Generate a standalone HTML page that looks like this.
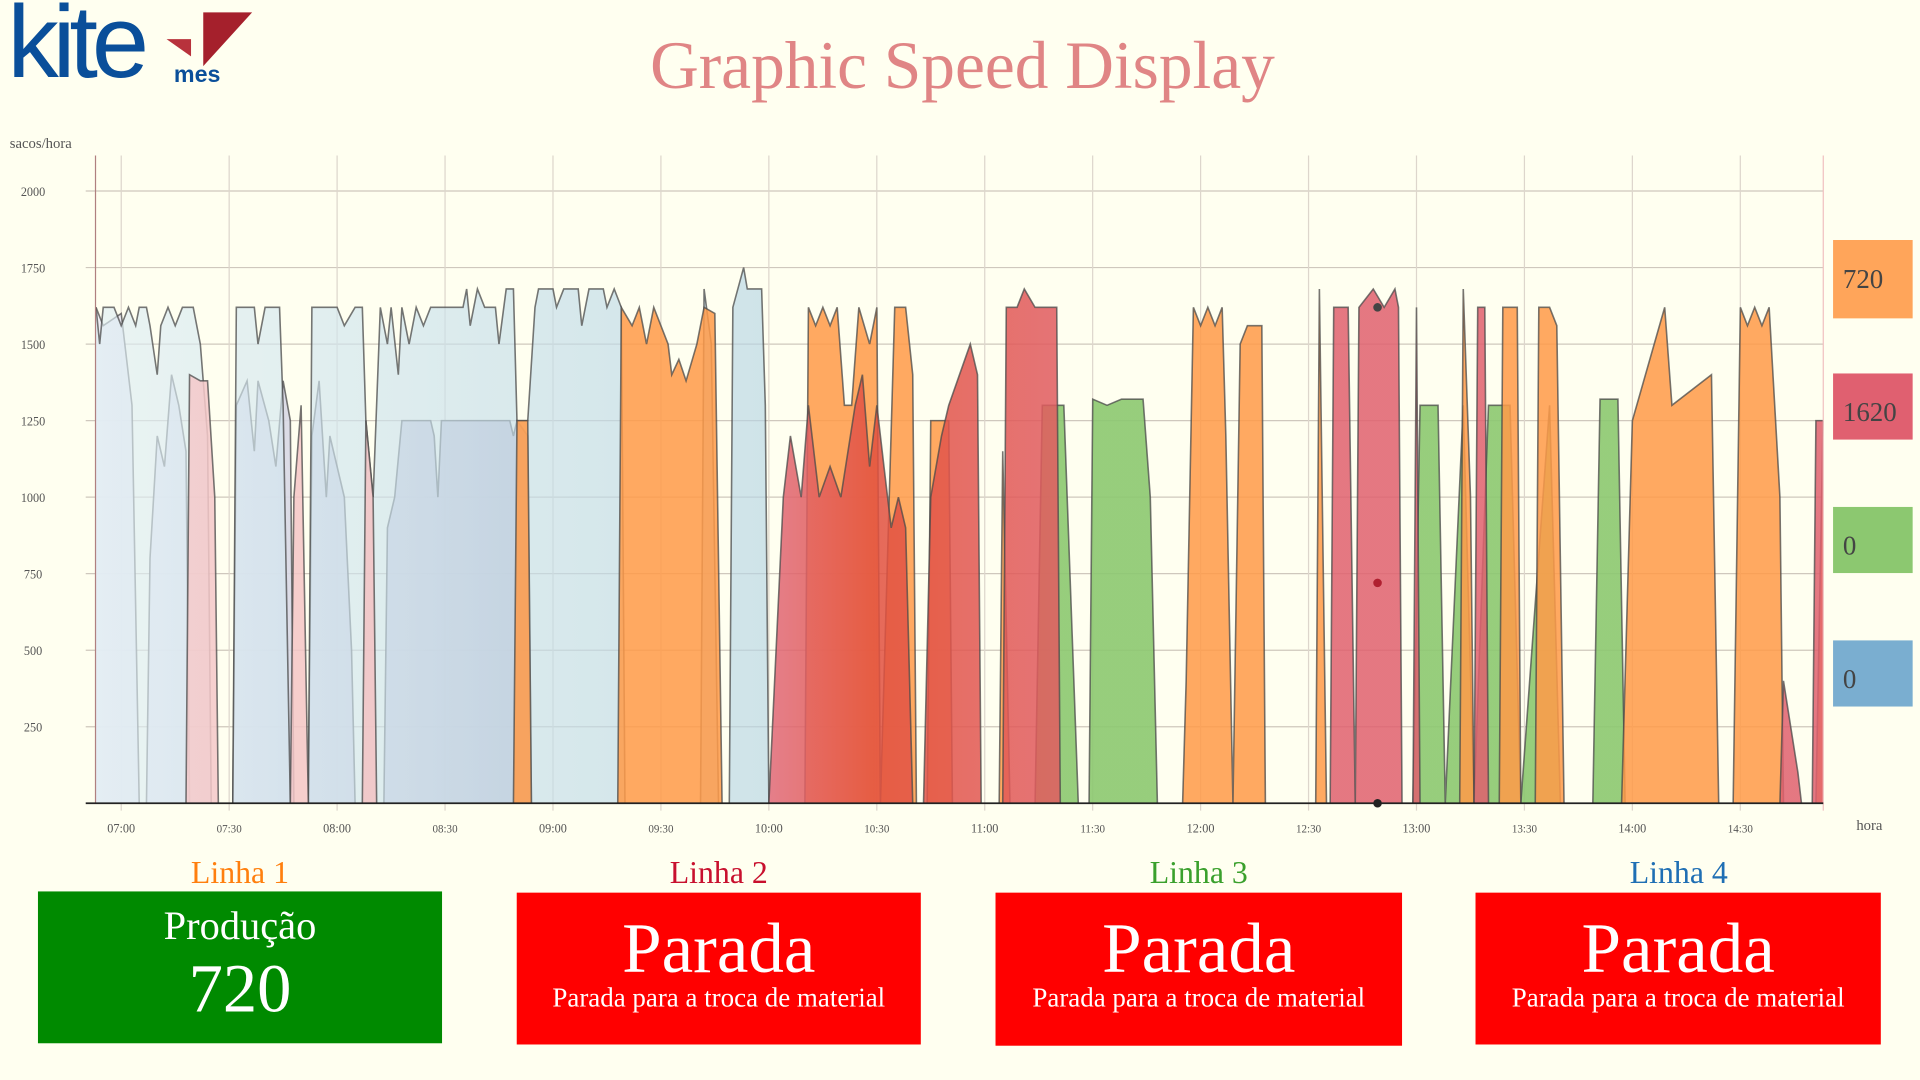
<!DOCTYPE html>
<html><head><meta charset="utf-8">
<style>
html,body{margin:0;padding:0;background:#fffff0;overflow:hidden}
#wrap{position:absolute;left:0;top:0;width:1568px;height:882px;transform:scale(1.22449);transform-origin:0 0;background:#fffff0;font-family:"Liberation Serif",serif}
.lbl{position:absolute;font-size:26px;text-align:center;width:330px}
.box{position:absolute;color:#fff;text-align:center}
.side{position:absolute;left:1497px;width:65px;font-size:22px;color:#444;box-sizing:border-box;padding-left:8px}
</style></head><body>
<div id="wrap">
  <div style="position:absolute;left:8px;top:0;width:200px;height:80px">
    <div style="position:absolute;left:-2px;top:-14px;font-family:'Liberation Sans',sans-serif;font-size:84px;color:#0a4f9a;letter-spacing:-5px">kite</div>
    <svg style="position:absolute;left:126px;top:10px" width="72" height="46"><polygon points="32,0 72,0 32,44" fill="#a5202c"/><polygon points="2,22 22,22 22,36" fill="#b8323c"/></svg>
    <div style="position:absolute;left:134px;top:51px;font-family:'Liberation Sans',sans-serif;font-weight:bold;font-size:19px;color:#0a4f9a">mes</div>
  </div>
  <div style="position:absolute;left:0;width:1568px;top:22px;text-align:center;font-size:55px;color:#e08585;padding-left:2px">Graphic Speed Display</div>
  <svg id="chart" style="position:absolute;left:0;top:0" width="1568" height="700"></svg>

  <div class="side" style="top:196px;height:64px;line-height:64px;background:#ffa55a">720</div>
  <div class="side" style="top:305px;height:54px;line-height:64px;background:#e06070">1620</div>
  <div class="side" style="top:414px;height:54px;line-height:64px;background:#8cc870">0</div>
  <div class="side" style="top:523px;height:54px;line-height:64px;background:#7aaed0">0</div>

  <div class="lbl" style="left:31px;top:698px;color:#ff7f0e">Linha 1</div>
  <div class="lbl" style="left:422px;top:698px;color:#c8102e">Linha 2</div>
  <div class="lbl" style="left:814px;top:698px;color:#3aa02c">Linha 3</div>
  <div class="lbl" style="left:1206px;top:698px;color:#1f6fb4">Linha 4</div>

  <div class="box" style="left:31px;top:728px;width:330px;height:124px;background:#008a00">
    <div style="font-size:33px;margin-top:11px">Produção</div>
    <div style="font-size:56px;margin-top:0px">720</div>
  </div>
  <div class="box" style="left:422px;top:729px;width:330px;height:124px;background:#ff0000">
    <div style="font-size:58px;margin-top:12px">Parada</div>
    <div style="font-size:22px;margin-top:-6px">Parada para a troca de material</div>
  </div>
  <div class="box" style="left:813px;top:729px;width:332px;height:125px;background:#ff0000">
    <div style="font-size:58px;margin-top:12px">Parada</div>
    <div style="font-size:22px;margin-top:-6px">Parada para a troca de material</div>
  </div>
  <div class="box" style="left:1205px;top:729px;width:331px;height:124px;background:#ff0000">
    <div style="font-size:58px;margin-top:12px">Parada</div>
    <div style="font-size:22px;margin-top:-6px">Parada para a troca de material</div>
  </div>
</div>
<script>
// minutes after 07:00, values in sacos/hora
const yTicks=[250,500,750,1000,1250,1500,1750,2000];
const xTickMinutes=[0,30,60,90,120,150,180,210,240,270,300,330,360,390,420,450];
const xTickLabels=["07:00","07:30","08:00","08:30","09:00","09:30","10:00","10:30","11:00","11:30","12:00","12:30","13:00","13:30","14:00","14:30"];
const blueSeries=[[-7,1620],[-6,1500],[-5,1620],[-2,1620],[0,1560],[2,1620],[4,1560],[5,1620],[7,1620],[8,1560],[10,1400],[11,1560],[13,1620],[15,1560],[17,1620],[20,1620],[22,1500],[24,1200],[25,0],[31,0],[32,1620],[37,1620],[38,1500],[40,1620],[44,1620],[45,1300],[47,0],[52,0],[53,1620],[60,1620],[62,1560],[65,1620],[67,1620],[68,1250],[70,1000],[72,1620],[74,1500],[75,1620],[77,1400],[78,1620],[80,1500],[82,1620],[84,1560],[86,1620],[95,1620],[96,1680],[97,1560],[99,1680],[101,1620],[104,1620],[105,1500],[107,1680],[109,1680],[110,1250],[113,1250],[115,1620],[116,1680],[120,1680],[121,1620],[123,1680],[127,1680],[128,1560],[130,1680],[134,1680],[135,1620],[137,1680],[139,1620],[140,0],[161,0],[162,1680],[164,1500],[166,0],[169,0],[170,1620],[173,1750],[174,1680],[178,1680],[179,1300],[180,0],[473,0]];
const greenSeries=[[-7,1620],[-5,1560],[0,1600],[3,1300],[5,0],[7,0],[8,800],[10,1200],[12,1100],[14,1400],[16,1300],[18,1150],[19,0],[31,0],[32,1300],[35,1380],[37,1150],[38,1380],[41,1250],[43,1100],[45,1380],[47,1250],[48,0],[52,0],[53,1200],[55,1380],[57,1000],[58,1200],[60,1100],[62,1000],[64,500],[65,0],[73,0],[74,900],[76,1000],[78,1250],[86,1250],[87,1200],[88,1000],[89,1250],[96,1250],[108,1250],[109,1200],[110,1250],[113,1200],[114,0],[254,0],[256,1300],[262,1300],[266,0],[269,0],[270,1320],[274,1300],[278,1320],[284,1320],[286,1000],[288,0],[359,0],[361,1300],[366,1300],[368,0],[373,1300],[376,0],[380,1300],[386,1300],[389,0],[397,1300],[400,0],[409,0],[411,1320],[416,1320],[418,0],[473,0]];
const orangeSeries=[[-7,0],[109,0],[110,1250],[113,1250],[114,0],[138,0],[139,1620],[142,1560],[144,1620],[146,1500],[148,1620],[152,1500],[153,1400],[155,1450],[157,1380],[160,1500],[162,1620],[165,1600],[167,0],[190,0],[191,1620],[193,1560],[195,1620],[197,1560],[199,1620],[201,1300],[203,1300],[205,1620],[208,1500],[210,1620],[211,0],[215,1620],[218,1620],[220,1400],[221,0],[224,0],[225,1250],[230,1250],[231,0],[244,0],[245,1150],[247,0],[295,0],[296,400],[298,1620],[300,1560],[302,1620],[304,1560],[306,1620],[307,1200],[309,0],[311,1500],[313,1560],[317,1560],[318,0],[332,0],[333,1680],[335,0],[372,0],[373,1680],[375,1000],[376,0],[383,0],[384,1620],[388,1620],[389,0],[393,0],[394,1620],[397,1620],[399,1560],[401,0],[417,0],[420,1250],[429,1620],[431,1300],[442,1400],[444,0],[448,0],[450,1620],[452,1560],[454,1620],[456,1560],[458,1620],[461,1000],[462,0],[471,0],[473,1250]];
const redSeries=[[-7,0],[18,0],[19,1400],[22,1380],[24,1380],[26,1000],[27,0],[47,0],[48,1000],[50,1300],[52,0],[67,0],[68,1250],[70,1000],[71,0],[180,0],[184,1000],[186,1200],[189,1000],[191,1300],[194,1000],[197,1100],[200,1000],[204,1300],[206,1400],[208,1100],[210,1300],[212,1100],[214,900],[216,1000],[218,900],[220,0],[223,0],[225,1000],[228,1200],[230,1300],[233,1400],[236,1500],[238,1400],[239,0],[245,0],[246,1620],[249,1620],[251,1680],[254,1620],[258,1620],[260,1620],[261,0],[336,0],[337,1620],[341,1620],[343,0],[344,1620],[348,1680],[351,1620],[354,1680],[355,1620],[356,0],[359,0],[360,1620],[361,0],[376,0],[377,1620],[379,1620],[380,0],[461,0],[462,400],[466,100],[467,0],[470,0],[471,1250],[473,1250]];

const NS="http://www.w3.org/2000/svg";
const svg=document.getElementById('chart');
const X0=99,PXM=176.3/60,Y0=656,PXV=0.25;
const xs=m=>X0+m*PXM, ys=v=>Y0-v*PXV;
function mk(t,a,parent){const e=document.createElementNS(NS,t);for(const k in a)e.setAttribute(k,a[k]);(parent||svg).appendChild(e);return e;}
const defs=mk('defs',{});
function grad(id,stops){const g=mk('linearGradient',{id:id,x1:'0',y1:'0',x2:'1',y2:'0',gradientUnits:'objectBoundingBox'},defs);stops.forEach(s=>mk('stop',{offset:s[0],'stop-color':s[1]},g));}
grad('gGreen',[[0,'#ecebf3'],[0.12,'#d6d6e4'],[0.3,'#b7b0c4'],[0.36,'#b6bcb6'],[0.4,'#a8b0aa'],[0.42,'#8cc870'],[1,'#8cc870']]);
grad('gBlue',[[0,'#dfeef4'],[0.5,'#a9cde0'],[1,'#6fa4c8']]);
grad('gRed',[[0,'#f5cccd'],[0.35,'#f2b8b8'],[0.39,'#e06878'],[0.45,'#e2503e'],[0.6,'#e0606e'],[1,'#e0606e']]);
yTicks.forEach(v=>{const l=mk('line',{x1:70,x2:1489,y1:ys(v),y2:ys(v),stroke:'#cfc8bd','stroke-width':1});
 const t=mk('text',{x:27,y:ys(v)+4,'font-size':10,fill:'#555','text-anchor':'middle','font-family':'Liberation Serif'});t.textContent=v;});
xTickMinutes.forEach((m,i)=>{const l=mk('line',{x1:xs(m),x2:xs(m),y1:127,y2:662,stroke:'#ddd6cc','stroke-width':1});
 const t=mk('text',{x:xs(m),y:680,'font-size':i%2?9:10,fill:'#555','text-anchor':'middle','font-family':'Liberation Serif'});t.textContent=xTickLabels[i];});
function area(data,fill,op,name){let d='M'+xs(data[0][0])+','+Y0;data.forEach(p=>d+='L'+xs(p[0]).toFixed(1)+','+ys(p[1]).toFixed(1));d+='L'+xs(data[data.length-1][0])+','+Y0+'Z';
 const a=mk('path',{d:d,fill:fill,'fill-opacity':op,stroke:'none'});
 let d2='';data.forEach((p,i)=>d2+=(i?'L':'M')+xs(p[0]).toFixed(1)+','+ys(p[1]).toFixed(1));
 const l=mk('path',{d:d2,fill:'none',stroke:'#4a4a4a','stroke-opacity':0.75,'stroke-width':1.3});}
area(greenSeries,'url(#gGreen)',0.9,'linha3');
area(blueSeries,'url(#gBlue)',0.65,'linha4');
area(orangeSeries,'#ff9a48',0.85,'linha1');
area(redSeries,'url(#gRed)',0.85,'linha2');
mk('line',{x1:78,x2:78,y1:127,y2:656,stroke:'#b08080','stroke-width':1});
mk('line',{x1:1489,x2:1489,y1:127,y2:662,stroke:'#f0c0c0','stroke-width':1});
mk('line',{x1:70,x2:1489,y1:656,y2:656,stroke:'#222','stroke-width':1.5});
mk('circle',{cx:1125,cy:251,r:3.5,fill:'#444'});mk('circle',{cx:1125,cy:476,r:3.5,fill:'#b02030'});mk('circle',{cx:1125,cy:656,r:3.5,fill:'#222'});
const yt=mk('text',{x:8,y:121,'font-size':12,fill:'#555','font-family':'Liberation Serif'});yt.textContent='sacos/hora';

const xt=mk('text',{x:1516,y:678,'font-size':12,fill:'#555','font-family':'Liberation Serif'});xt.textContent='hora';

</script>
</body></html>
